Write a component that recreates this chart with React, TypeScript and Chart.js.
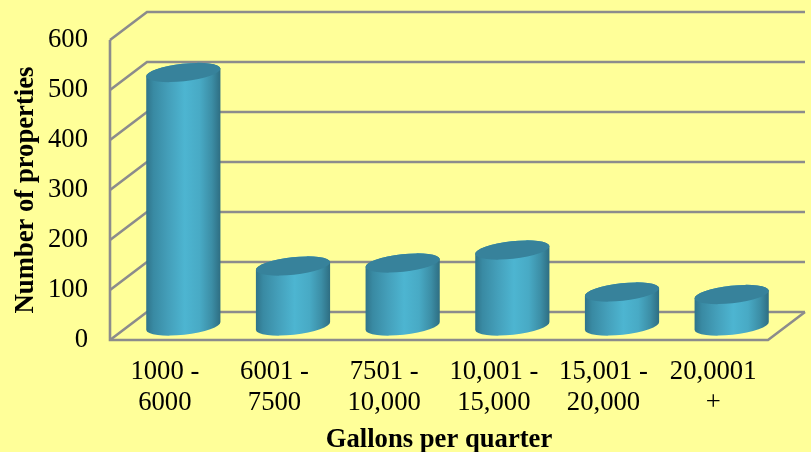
import React, { useEffect, useRef } from "react";
import { Chart, registerables } from "chart.js";

Chart.register(...registerables);

const categories = [
  ["1000 -", "6000"],
  ["6001 -", "7500"],
  ["7501 -", "10,000"],
  ["10,001 -", "15,000"],
  ["15,001 -", "20,000"],
  ["20,0001", "+"],
];
const properties = [507, 120, 126, 152, 68, 63];
const yTitle = "Number of properties";
const xTitle = "Gallons per quarter";

const BG = "#FFFF99";
const GRID = "#8C8C8C";
const DEPTH_X = 37;
const DEPTH_Y = 28;

const cylinderPlugin = {
  id: "cylinder3d",
  beforeDatasetsDraw(chart: any) {
    const { ctx, scales } = chart;
    const y = scales.y;
    const left = scales.x.left;
    const right = scales.x.right;
    ctx.save();
    ctx.strokeStyle = GRID;
    ctx.lineWidth = 2.6;
    ctx.lineJoin = "miter";
    const ticks = y.ticks.map((t: any) => t.value);
    ticks.forEach((v: number) => {
      const py = y.getPixelForValue(v);
      ctx.beginPath();
      ctx.moveTo(left, py);
      ctx.lineTo(left + DEPTH_X, py - DEPTH_Y);
      ctx.lineTo(right + DEPTH_X, py - DEPTH_Y);
      ctx.stroke();
    });
    // front axis + floor
    const p0 = y.getPixelForValue(0);
    const pTop = y.getPixelForValue(600);
    ctx.beginPath();
    ctx.moveTo(left, pTop);
    ctx.lineTo(left, p0);
    ctx.lineTo(right, p0);
    ctx.lineTo(right + DEPTH_X, p0 - DEPTH_Y);
    ctx.stroke();
    ctx.restore();
  },
  afterDatasetsDraw(chart: any) {
    const { ctx } = chart;
    const meta = chart.getDatasetMeta(0);
    const rot = -6.2 * (Math.PI / 180);
    meta.data.forEach((el: any) => {
      const cx = el.x + DEPTH_X / 2;
      const topY = el.y - DEPTH_Y / 2;
      const baseY = el.base - DEPTH_Y / 2;
      const rx = el.width / 2 + 0.3;
      const ry = 8.8;
      const g = ctx.createLinearGradient(cx - rx, 0, cx + rx, 0);
      g.addColorStop(0, "#2F7389");
      g.addColorStop(0.1, "#398AA3");
      g.addColorStop(0.3, "#449FBA");
      g.addColorStop(0.52, "#4DB5D1");
      g.addColorStop(0.72, "#48AAC5");
      g.addColorStop(0.88, "#3C8EA6");
      g.addColorStop(1, "#2E6D81");
      ctx.save();
      ctx.beginPath();
      ctx.ellipse(cx, baseY, rx, ry, rot, 0, Math.PI, false);
      ctx.ellipse(cx, topY, rx, ry, rot, Math.PI, Math.PI * 2, false);
      ctx.closePath();
      ctx.fillStyle = g;
      ctx.fill();
      ctx.beginPath();
      ctx.ellipse(cx, topY, rx, ry, rot, 0, Math.PI * 2);
      ctx.fillStyle = "#37829B";
      ctx.fill();
      ctx.restore();
    });
  },
};

export default function App() {
  const ref = useRef<HTMLCanvasElement>(null);
  useEffect(() => {
    document.body.style.margin = "0";
    document.body.style.background = BG;
    const serif = "'Liberation Serif'";
    const chart = new Chart(ref.current as HTMLCanvasElement, {
      type: "bar",
      data: {
        labels: categories,
        datasets: [
          {
            data: properties,
            backgroundColor: "rgba(0,0,0,0)",
            borderWidth: 0,
            categoryPercentage: 1,
            barPercentage: 0.675,
          },
        ],
      },
      options: {
        animation: false,
        responsive: false,
        layout: { padding: { top: 40, right: 43, left: 0, bottom: 0 } },
        plugins: { legend: { display: false }, tooltip: { enabled: false } },
        scales: {
          x: {
            grid: { display: false },
            border: { display: false },
            afterFit: (s: any) => {
              s.height = 112;
            },
            ticks: {
              color: "#000",
              maxRotation: 0,
              autoSkip: false,
              padding: 9,
              font: { family: serif, size: 26.67, lineHeight: 1.15 },
            },
            title: {
              display: true,
              text: xTitle,
              color: "#000",
              padding: { top: 0, bottom: -1.5 },
              font: { family: serif, size: 26.67, weight: "bold", lineHeight: 1 },
            },
          },
          y: {
            min: 0,
            max: 600,
            grid: { display: false },
            border: { display: false },
            afterFit: (s: any) => {
              s.width = 110;
            },
            ticks: {
              stepSize: 100,
              color: "#000",
              padding: 14,
              font: { family: serif, size: 26.67 },
            },
            title: {
              display: true,
              text: yTitle,
              color: "#000",
              padding: { top: 10, bottom: 0 },
              font: { family: serif, size: 26.67, weight: "bold" },
            },
          },
        },
      },
      plugins: [cylinderPlugin],
    } as any);
    return () => chart.destroy();
  }, []);
  return (
    <div style={{ width: 811, height: 452, background: BG }}>
      <canvas ref={ref} width={811} height={452} style={{ display: "block" }} />
    </div>
  );
}
